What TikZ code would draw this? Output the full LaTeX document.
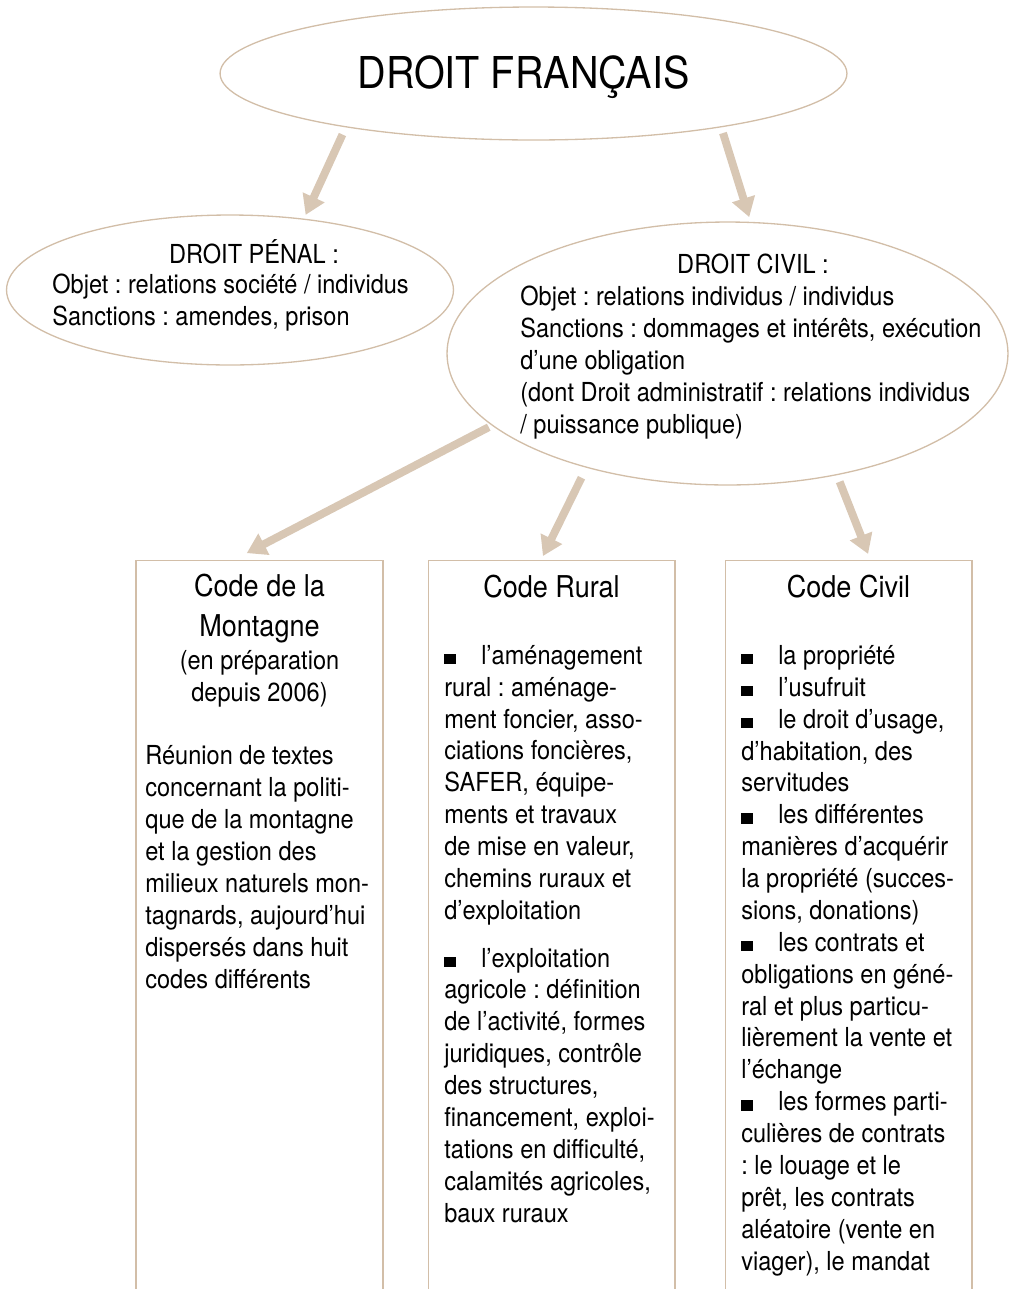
\documentclass[tikz,border=0pt]{standalone}
\usepackage{fontspec}
\setmainfont{TeX Gyre Heros}[FakeStretch=0.9]
\usetikzlibrary{shapes.geometric,arrows.meta}
\frenchspacing

\definecolor{tanFill}{RGB}{216,199,180}
\definecolor{tanLine}{RGB}{210,190,168}
\newcommand{\puce}{\makebox[21pt][l]{\rule{6.4pt}{6pt}}}

\tikzstyle{lawEllipse}=[shape=ellipse,draw=tanLine,line width=0.75pt,inner sep=0pt]
\tikzstyle{codeBox}=[shape=rectangle,draw=tanLine,line width=0.6pt,inner sep=0pt,anchor=north,minimum width=4.94cm,minimum height=14.8cm]
\tikzstyle{arrowLink}=[draw=tanFill,line width=4.5pt,-{Triangle[width=13pt,length=11pt]}]
\tikzstyle{bodyText}=[inner sep=0pt,align=left,font=\fontsize{14.9}{18.14}\selectfont]
\tikzstyle{titleText}=[inner sep=0pt,align=center,font=\fontsize{17.1}{22.7}\selectfont]

\begin{document}
\begin{tikzpicture}[x=0.02cm,y=-0.02cm]
        \useasboundingbox (0,0) rectangle (1016,1289);

        % top level (multi-line texts sit on their last baseline)
        \node[lawEllipse,minimum width=12.54cm,minimum height=2.66cm] (droit) at (533.5,73.5) {};
        \node[inner sep=0pt,anchor=base,font=\fontsize{25}{30}\selectfont] (droitT) at (523.5,88) {DROIT FRANÇAIS};

        % penal / civil
        \node[lawEllipse,minimum width=8.94cm,minimum height=3cm] (penal) at (230,290) {};
        \node[bodyText,anchor=base] (penalT) at (254,263) {DROIT PÉNAL :};
        \node[bodyText,anchor=base west] (penalB) at (52,325) {Objet : relations société / individus\\Sanctions : amendes, prison};

        \node[lawEllipse,minimum width=11.22cm,minimum height=5.26cm] (civil) at (727.5,353.5) {};
        \node[bodyText,anchor=base] (civilT) at (753,273) {DROIT CIVIL :};
        \node[bodyText,anchor=base west] (civilB) at (520,433) {Objet : relations individus / individus\\Sanctions : dommages et intérêts, exécution\\d’une obligation\\(dont Droit administratif : relations individus\\/ puissance publique)};

        % codes
        \node[codeBox] (mont) at (259.5,560) {};
        \node[codeBox] (rural) at (551.5,560) {};
        \node[codeBox] (civ) at (848.5,560) {};

        \node[titleText,anchor=base] (montT) at (259.5,636) {Code de la\\Montagne};
        \node[bodyText,align=center,anchor=base] (montS) at (259.5,701) {(en préparation\\depuis 2006)};
        \node[bodyText,anchor=base west] (montB) at (145,988) {Réunion de textes\\concernant la politi-\\que de la montagne\\et la gestion des\\milieux naturels mon-\\tagnards, aujourd’hui\\dispersés dans huit\\codes différents};

        \node[titleText,anchor=base] (ruralT) at (551.5,597) {Code Rural};
        \node[bodyText,anchor=base west] (ruralB) at (444,1222) {\puce l’aménagement\\rural : aménage-\\ment foncier, asso-\\ciations foncières,\\SAFER, équipe-\\ments et travaux\\de mise en valeur,\\chemins ruraux et\\d’exploitation\\[9.07pt]\puce l’exploitation\\agricole : définition\\de l’activité, formes\\juridiques, contrôle\\des structures,\\financement, exploi-\\tations en difficulté,\\calamités agricoles,\\baux ruraux};

        \node[titleText,anchor=base] (civT) at (848.5,597) {Code Civil};
        \node[bodyText,anchor=base west] (civB) at (741,1270) {\puce la propriété\\\puce l’usufruit\\\puce le droit d’usage,\\d’habitation, des\\servitudes\\\puce les différentes\\manières d’acquérir\\la propriété (succes-\\sions, donations)\\\puce les contrats et\\obligations en géné-\\ral et plus particu-\\lièrement la vente et\\l’échange\\\puce les formes parti-\\culières de contrats\\: le louage et le\\prêt, les contrats\\aléatoire (vente en\\viager), le mandat};

        % arrows
        \draw[arrowLink,shorten <=4.5pt,shorten >=2.3pt] (droit.196) -- (penal.44);
        \draw[arrowLink,shorten <=3.4pt,shorten >=2.8pt] (droit.344) -- (civil.80);
        \draw[arrowLink,shorten <=2pt,shorten >=8.5pt] (civil.197) -- ([xshift=-0.52cm]mont.north);
        \draw[arrowLink,shorten <=6.3pt,shorten >=2.5pt] (civil.219) -- ([xshift=-0.21cm]rural.north);
        \draw[arrowLink,shorten <=4pt,shorten >=3.7pt] (civil.312) -- ([xshift=0.44cm]civ.north);
\end{tikzpicture}
\end{document}
